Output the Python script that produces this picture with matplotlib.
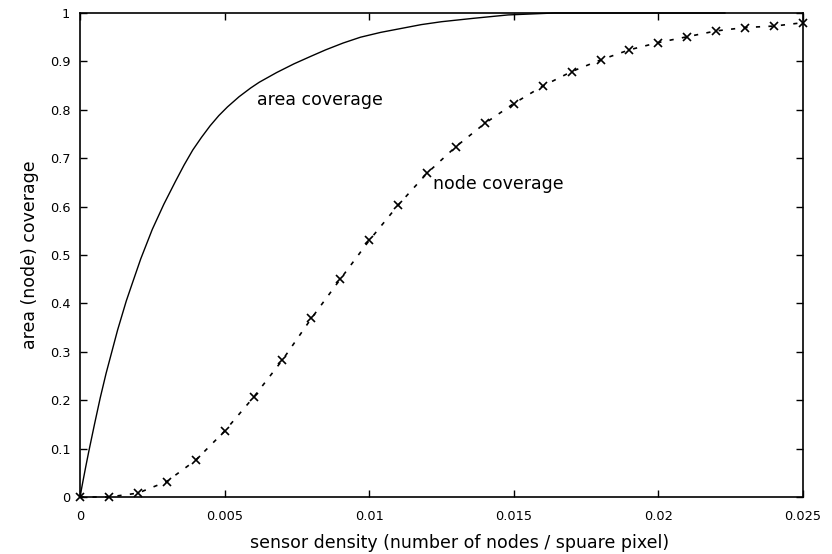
import matplotlib
matplotlib.use("Agg")
import matplotlib.pyplot as plt

plt.rcParams['font.family'] = ['DejaVu Sans']

# area coverage (solid curve)
area_x = [0, 0.0001, 0.0002, 0.0003, 0.0005, 0.0007, 0.0009, 0.0011, 0.0013,
          0.0016, 0.0018, 0.0021, 0.0025, 0.0029, 0.0033, 0.0036, 0.0039,
          0.0042, 0.0045, 0.0048, 0.0051, 0.0055, 0.0059, 0.0062, 0.0068,
          0.0074, 0.0080, 0.0085, 0.0091, 0.0097, 0.0104, 0.0111, 0.0118,
          0.0125, 0.0136, 0.0148, 0.0164, 0.0223]
area_y = [0, 0.032, 0.063, 0.093, 0.15, 0.205, 0.255, 0.30, 0.345,
          0.405, 0.44, 0.492, 0.553, 0.605, 0.652, 0.686, 0.717,
          0.743, 0.767, 0.788, 0.806, 0.827, 0.845, 0.857, 0.877,
          0.895, 0.911, 0.924, 0.938, 0.950, 0.960, 0.968, 0.976,
          0.982, 0.989, 0.996, 1.0, 1.0]

# node coverage (dashed with x markers)
node_x = [0, 0.001, 0.002, 0.003, 0.004, 0.005, 0.006, 0.007, 0.008, 0.009,
          0.010, 0.011, 0.012, 0.013, 0.014, 0.015, 0.016, 0.017, 0.018,
          0.019, 0.020, 0.021, 0.022, 0.023, 0.024, 0.025]
node_y = [0, 0.0, 0.008, 0.032, 0.076, 0.136, 0.206, 0.283, 0.369, 0.450,
          0.530, 0.603, 0.669, 0.724, 0.772, 0.813, 0.849, 0.879, 0.903,
          0.924, 0.939, 0.951, 0.963, 0.970, 0.973, 0.980]

x_ticks = [0, 0.005, 0.01, 0.015, 0.02, 0.025]
x_tick_labels = ['0', '0.005', '0.01', '0.015', '0.02', '0.025']
y_ticks = [0, 0.1, 0.2, 0.3, 0.4, 0.5, 0.6, 0.7, 0.8, 0.9, 1.0]
y_tick_labels = ['0', '0.1', '0.2', '0.3', '0.4', '0.5', '0.6', '0.7', '0.8', '0.9', '1']

W, H = 832, 554
fig = plt.figure(figsize=(W / 100, H / 100), dpi=100)
L, R, T, B = 80, 803, 13, 497
ax = fig.add_axes([L / W, (H - B) / H, (R - L) / W, (B - T) / H])

ax.plot(area_x, area_y, color='black', lw=1.0, clip_on=False)
ax.plot(node_x, node_y, color='black', lw=1.2, linestyle=(0, (2.5, 5)),
        marker='x', markersize=6, markeredgewidth=1.2, clip_on=False)

ax.set_xlim(0, 0.025)
ax.set_ylim(0, 1)
ax.set_xticks(x_ticks)
ax.set_xticklabels(x_tick_labels)
ax.set_yticks(y_ticks)
ax.set_yticklabels(y_tick_labels)
ax.tick_params(direction='in', length=5, width=1.0, top=True, right=True,
               labelsize=9.3, colors='black')
ax.tick_params(axis='x', pad=9)
ax.tick_params(axis='y', pad=7)
for s in ax.spines.values():
    s.set_linewidth(1.2)

ax.text(0.00613, 0.82, 'area coverage', fontsize=12.5, ha='left', va='center')
ax.text(0.0122, 0.647, 'node coverage', fontsize=12.5, ha='left', va='center')

fig.text(460 / W, 1 - 543 / H, 'sensor density (number of nodes / spuare pixel)',
         fontsize=12.5, ha='center', va='center')
fig.text(30 / W, 1 - 255 / H, 'area (node) coverage', fontsize=12.5,
         ha='center', va='center', rotation=90)

fig.savefig('out.png', dpi=100)
